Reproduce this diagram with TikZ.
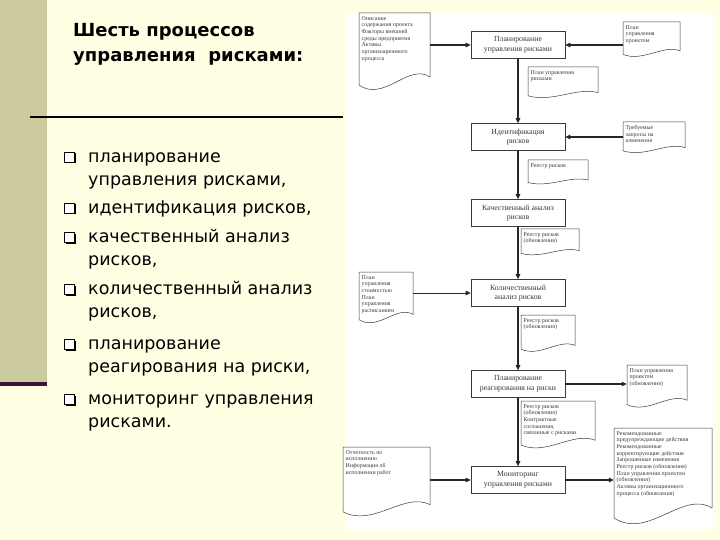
\documentclass[tikz,border=0pt]{standalone}
\usepackage{fontspec}
\setmainfont{Liberation Serif}
\newfontfamily\slidefont{DejaVu Sans}
\usetikzlibrary{positioning,arrows.meta}

\definecolor{cream}{HTML}{FFFFE3}
\definecolor{khaki}{HTML}{CBCB9F}
\definecolor{plum}{HTML}{3A1538}
\definecolor{ink}{HTML}{3A3A3A}

% document sheet: name, x, y, w, h, text
\newcommand{\docnode}[6]{%
  \draw[docline] (#2,#3) -- ({#2+#4},#3) -- ({#2+#4},{#3+0.8*#5})
    .. controls ({#2+0.7*#4},{#3+0.62*#5}) and ({#2+0.35*#4},{#3+1.12*#5}) .. (#2,{#3+0.9*#5}) -- cycle;
  \node[docbox,minimum width=#4pt,minimum height=#5pt] (#1) at ({#2+0.5*#4},{#3+0.5*#5}) {};
  \node[doctext,anchor=north west] (#1-t) at ({#2+2.5},{#3+3}) {#6};}

\begin{document}
\begin{tikzpicture}[x=1pt,y=-1pt,
    title/.style={font=\slidefont\bfseries\fontsize{18}{25}\selectfont,align=left,inner sep=0pt},
    item/.style={font=\slidefont\fontsize{17.5}{21}\selectfont,inner sep=0pt},
    bbox/.style={draw=black,fill=white,line width=0.8pt,minimum size=10pt,inner sep=0pt},
    bshade/.style={fill=black,minimum size=10pt,inner sep=0pt},
    proc/.style={draw=ink,fill=white,line width=0.6pt,align=center,text=ink,
      font=\fontsize{7.8}{9.5}\selectfont,minimum width=94pt,minimum height=27pt,inner sep=1pt},
    docline/.style={draw=ink,fill=white,line width=0.5pt},
    docbox/.style={inner sep=0pt},
    doctext/.style={align=left,text=ink,inner sep=0pt,font=\fontsize{5.9}{6.7}\selectfont},
    arr/.style={-{Triangle[length=5pt,width=4.5pt]},line width=1.4pt,draw=black!85},
    thinarr/.style={arr,line width=0.8pt}]
  \useasboundingbox (0,0) rectangle (720,540);
  \fill[cream] (0,0) rectangle (720,540);
  \fill[khaki] (0,0) rectangle (47,383);
  \fill[plum] (0,382) rectangle (47,386);
  \draw[line width=2pt] (30,117) -- (343,117);
  \fill[white] (345,13) rectangle (713,530);

  % left side: title and list
  \node[title,anchor=base west] (title) at (73,62) {Шесть процессов\\управления\ \ рисками:};
  \foreach \y/\b/\t in {157/1/планирование, 180/0/{управления рисками,}, 208/1/{идентификация рисков,},
      237/1/качественный анализ, 260/0/{рисков,}, 289/1/количественный анализ, 312/0/{рисков,},
      344/1/планирование, 367/0/{реагирования на риски,}, 399/1/мониторинг управления, 422/0/{рисками.}} {
    \ifnum\b=1
      \node[bshade] (s\y) at (71,\y+1.5) {};
      \node[bbox] (q\y) at (69.5,\y) {};
    \fi
    \node[item,anchor=base west] (t\y) at (88,\y+5.5) {\t};
  }

  % process chain
  \foreach \n/\y/\t in {plan/45/{Планирование\\управления рисками}, ident/137/{Идентификация\\рисков},
      qual/213/{Качественный анализ\\рисков}, quant/293/{Количественный\\анализ рисков},
      resp/384/{Планирование\\реагирования на риски}, monit/480/{Мониторинг\\управления рисками}}
    \node[proc] (\n) at (518,\y) {\t};
  \foreach \a/\b in {plan/ident,ident/qual,qual/quant,quant/resp,resp/monit}
    \draw[arr] (\a.south) -- (\b.north);

  % documents
  \docnode{scope}{359}{13}{71}{80}{Описание\\содержания проекта\\Факторы внешней\\среды предприятия\\Активы\\организационного\\процесса}
  \docnode{pmplan}{623}{22}{57}{36}{План\\управления\\проектом}
  \docnode{rmplan}{528}{67}{70}{32}{План управления\\рисками}
  \docnode{changes}{623}{122}{62}{32}{Требуемые\\запросы на\\изменения}
  \docnode{reg}{528}{160}{60}{25}{Реестр рисков}
  \docnode{regq}{521}{229}{58}{27}{Реестр рисков\\(обновления)}
  \docnode{costplan}{359}{272}{54}{53}{План\\управления\\стоимостью\\План\\управления\\расписанием}
  \docnode{regqn}{521}{315}{54}{38}{Реестр рисков\\(обновления)}
  \docnode{pmupd}{627}{365}{60}{44}{План управления\\проектом\\(обновления)}
  \docnode{regr}{521}{401}{74}{49}{Реестр рисков\\(обновления)\\Контрактные\\соглашения,\\связанные с рисками}
  \docnode{perf}{343}{447}{87}{72}{Отчетность по\\исполнению\\Информация об\\исполнении работ}
  \docnode{outs}{614}{428}{98}{100}{Рекомендованные\\предупреждающие действия\\Рекомендованные\\корректирующие действия\\Запрошенные изменения\\Реестр рисков (обновления)\\План управления проектом\\(обновления)\\Активы организационного\\процесса (обновления)}

  % inputs and outputs
  \draw[arr] (scope.east |- plan.west) -- (plan.west);
  \draw[arr] (pmplan.west |- plan.east) -- (plan.east);
  \draw[arr] (changes.west |- ident.east) -- (ident.east);
  \draw[thinarr] (costplan.east |- quant.west) -- (quant.west);
  \draw[arr] (resp.east) -- (resp.east -| pmupd.west);
  \draw[arr] (perf.east |- monit.west) -- (monit.west);
  \draw[arr] (monit.east) -- (monit.east -| outs.west);
\end{tikzpicture}
\end{document}
